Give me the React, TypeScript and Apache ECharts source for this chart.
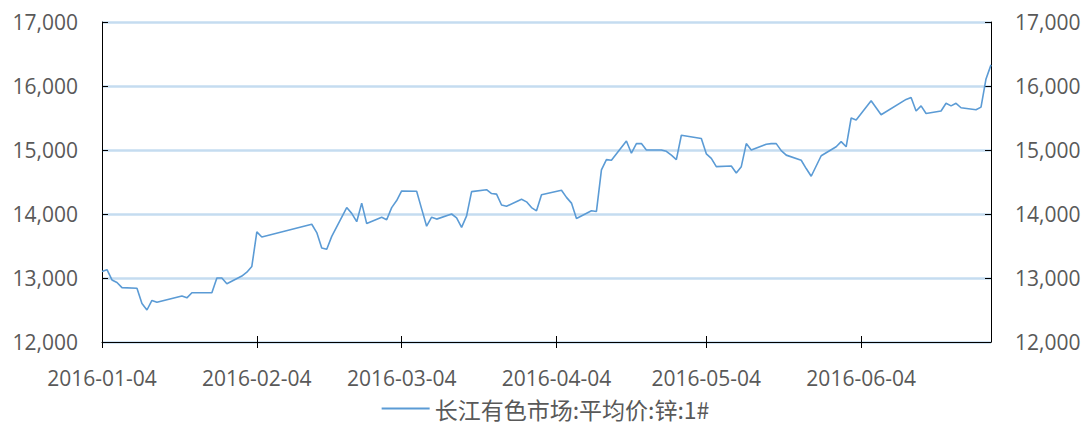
import React, { useEffect, useRef } from "react";
import * as echarts from "echarts";

const tradeDates: string[] = [
  "2016-01-04","2016-01-05","2016-01-06","2016-01-07","2016-01-08",
  "2016-01-11","2016-01-12","2016-01-13","2016-01-14","2016-01-15",
  "2016-01-18","2016-01-19","2016-01-20","2016-01-21","2016-01-22",
  "2016-01-25","2016-01-26","2016-01-27","2016-01-28","2016-01-29",
  "2016-02-01","2016-02-02","2016-02-03","2016-02-04","2016-02-05",
  "2016-02-15","2016-02-16","2016-02-17","2016-02-18","2016-02-19",
  "2016-02-22","2016-02-23","2016-02-24","2016-02-25","2016-02-26",
  "2016-02-29","2016-03-01","2016-03-02","2016-03-03","2016-03-04",
  "2016-03-07","2016-03-08","2016-03-09","2016-03-10","2016-03-11",
  "2016-03-14","2016-03-15","2016-03-16","2016-03-17","2016-03-18",
  "2016-03-21","2016-03-22","2016-03-23","2016-03-24","2016-03-25",
  "2016-03-28","2016-03-29","2016-03-30","2016-03-31","2016-04-01",
  "2016-04-05","2016-04-06","2016-04-07","2016-04-08",
  "2016-04-11","2016-04-12","2016-04-13","2016-04-14","2016-04-15",
  "2016-04-18","2016-04-19","2016-04-20","2016-04-21","2016-04-22",
  "2016-04-25","2016-04-26","2016-04-27","2016-04-28","2016-04-29",
  "2016-05-03","2016-05-04","2016-05-05","2016-05-06",
  "2016-05-09","2016-05-10","2016-05-11","2016-05-12","2016-05-13",
  "2016-05-16","2016-05-17","2016-05-18","2016-05-19","2016-05-20",
  "2016-05-23","2016-05-24","2016-05-25","2016-05-26","2016-05-27",
  "2016-05-30","2016-05-31","2016-06-01","2016-06-02","2016-06-03",
  "2016-06-06","2016-06-07","2016-06-08",
  "2016-06-13","2016-06-14","2016-06-15","2016-06-16","2016-06-17",
  "2016-06-20","2016-06-21","2016-06-22","2016-06-23","2016-06-24",
  "2016-06-27","2016-06-28","2016-06-29","2016-06-30",
];

const zincPrice: number[] = [
  13100, 13130, 12970, 12930, 12850,
  12840, 12600, 12500, 12650, 12620,
  12680, 12700, 12720, 12690, 12770,
  12770, 12770, 13000, 13000, 12910,
  13030, 13090, 13180, 13720, 13640,
  13840, 13710, 13470, 13450, 13650,
  14100, 14010, 13880, 14170, 13850,
  13950, 13910, 14100, 14210, 14360,
  14355, 14080, 13810, 13950, 13920,
  14000, 13940, 13790, 13970, 14350,
  14380, 14320, 14310, 14140, 14120,
  14230, 14190, 14100, 14050, 14300,
  14370, 14260, 14170, 13930,
  14050, 14040, 14690, 14850, 14840,
  15140, 14950, 15100, 15100, 15000,
  15000, 14980, 14920, 14850, 15230,
  15180, 14940, 14870, 14740,
  14750, 14640, 14740, 15100, 15000,
  15090, 15100, 15100, 14990, 14920,
  14840, 14710, 14590, 14750, 14910,
  15050, 15130, 15050, 15500, 15470,
  15770, 15660, 15550,
  15790, 15820, 15610, 15690, 15570,
  15610, 15730, 15690, 15730, 15660,
  15630, 15670, 16110, 16330,
];

const seriesName = "长江有色市场:平均价:锌:1#";
const startDate = "2016-01-04";
const endDate = "2016-06-30";
const yMin = 12000;
const yMax = 17000;
const yStep = 1000;

function pad(n: number) {
  return n < 10 ? "0" + n : String(n);
}

function buildDays(): string[] {
  const out: string[] = [];
  const d = new Date(startDate + "T00:00:00Z");
  const end = new Date(endDate + "T00:00:00Z");
  while (d.getTime() <= end.getTime()) {
    out.push(d.getUTCFullYear() + "-" + pad(d.getUTCMonth() + 1) + "-" + pad(d.getUTCDate()));
    d.setUTCDate(d.getUTCDate() + 1);
  }
  return out;
}

export default function App() {
  const ref = useRef<HTMLDivElement>(null);

  useEffect(() => {
    if (!ref.current) return;
    const chart = echarts.init(ref.current, undefined, { renderer: "svg" });
    const days = buildDays();
    const priceMap: Record<string, number> = {};
    tradeDates.forEach((d, i) => {
      priceMap[d] = zincPrice[i];
    });
    const values = days.map((d) => (d in priceMap ? priceMap[d] : null));
    const isTick = (_i: number, v: string) => v.slice(8) === "04";
    const labelColor = "#595959";
    const font = "'Open Sans', 'Noto Sans', sans-serif";
    const fmt = (v: number) => v.toLocaleString("en-US");

    chart.setOption({
      animation: false,
      backgroundColor: "#ffffff",
      grid: { left: 102, right: 100, top: 22, bottom: 84, containLabel: false },
      legend: {
        bottom: 1,
        left: "center",
        itemWidth: 48,
        itemHeight: 2,
        itemGap: 10,
        textStyle: {
          color: labelColor,
          fontSize: 23,
          fontFamily: "'Noto Sans CJK SC', 'Open Sans', sans-serif",
        },
        data: [{ name: seriesName, icon: "rect" }],
      },
      xAxis: [
        {
          type: "category",
          data: days,
          boundaryGap: false,
          axisLine: { show: true, lineStyle: { color: "#000000", width: 1 } },
          axisTick: { show: true, inside: false, length: 6, interval: isTick, lineStyle: { color: "#000000" } },
          axisLabel: {
            interval: isTick,
            margin: 25,
            color: labelColor,
            fontSize: 21,
            fontFamily: font,
          },
          splitLine: { show: false },
        },
        {
          type: "category",
          data: days,
          boundaryGap: false,
          position: "bottom",
          axisLine: { show: false },
          axisTick: { show: true, inside: true, length: 6, interval: isTick, lineStyle: { color: "#000000" } },
          axisLabel: { show: false },
          splitLine: { show: false },
        },
      ],
      yAxis: [
        {
          type: "value",
          position: "left",
          min: yMin,
          max: yMax,
          interval: yStep,
          axisLine: { show: true, lineStyle: { color: "#000000", width: 1 } },
          axisTick: { show: true, inside: true, length: 6, lineStyle: { color: "#000000" } },
          axisLabel: { margin: 24, color: labelColor, fontSize: 21, fontFamily: font, formatter: fmt },
          splitLine: { show: true, lineStyle: { color: "#C5DCF0", width: 2.5 } },
        },
        {
          type: "value",
          position: "right",
          min: yMin,
          max: yMax,
          interval: yStep,
          axisLine: { show: true, lineStyle: { color: "#000000", width: 1 } },
          axisTick: { show: true, inside: true, length: 6, lineStyle: { color: "#000000" } },
          axisLabel: { margin: 24, color: labelColor, fontSize: 21, fontFamily: font, formatter: fmt },
          splitLine: { show: false },
        },
      ],
      series: [
        {
          name: seriesName,
          type: "line",
          xAxisIndex: 0,
          yAxisIndex: 0,
          data: values,
          connectNulls: true,
          symbol: "none",
          lineStyle: { color: "#5B9BD5", width: 1.6 },
          itemStyle: { color: "#5B9BD5" },
          z: 3,
        },
      ],
    });

    return () => chart.dispose();
  }, []);

  return (
    <div
      ref={ref}
      style={{ position: "fixed", left: 0, top: 0, width: 1091, height: 426, background: "#fff" }}
    />
  );
}
